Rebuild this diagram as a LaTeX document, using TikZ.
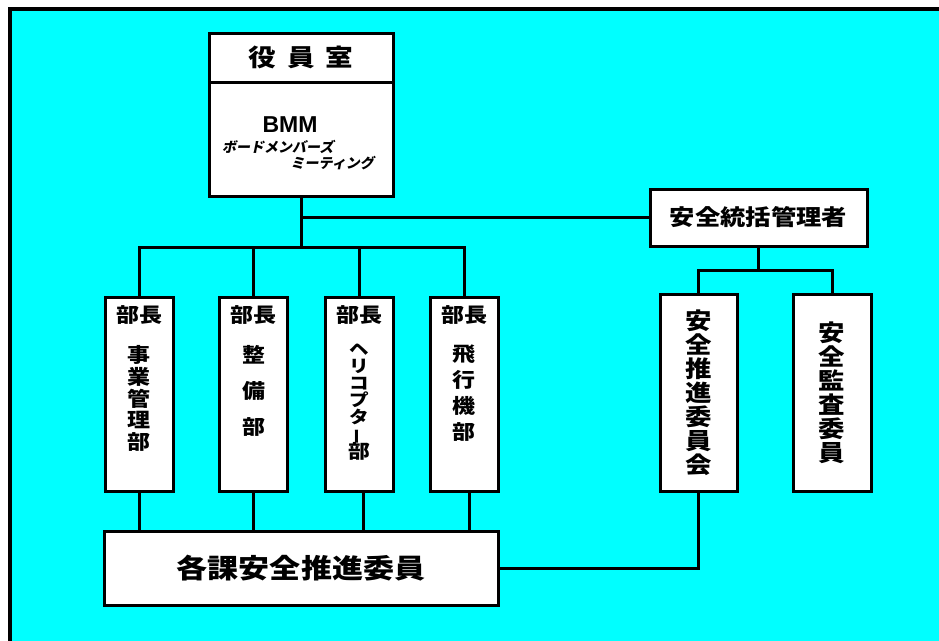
\documentclass[tikz,border=0pt]{standalone}
\usepackage{fontspec}
\newfontfamily\jpfont{Noto Sans CJK JP}[FakeStretch=1.15]
\newfontfamily\jpslant{Noto Sans CJK JP}[FakeSlant=0.2]
\newfontfamily\latinfont{Liberation Sans}
\usetikzlibrary{positioning}
\definecolor{bgcyan}{RGB}{0,255,255}
\lineskiplimit=-100pt

\begin{document}
\begin{tikzpicture}[x=1pt,y=-1pt]
    \tikzstyle{every node} = [inner sep=0pt]
    \tikzstyle{box} = [draw, rectangle, fill=white, line width=3pt]
    \tikzstyle{link} = [line width=3pt]
    \tikzstyle{dept} = [box, minimum width=68pt, minimum height=194pt]
    \tikzstyle{committee} = [box, minimum width=77pt, minimum height=197pt, align=center, font=\jpfont\bfseries\fontsize{23}{24}\selectfont]
    \tikzstyle{chief} = [font=\jpfont\bfseries\fontsize{20}{20}\selectfont]
    \useasboundingbox (0,0) rectangle (939,640);
    \draw[line width=4pt, fill=bgcyan] (10,9) rectangle (960,660);

    % place nodes
    \node[box, minimum width=184pt, minimum height=49pt, font=\jpfont\bfseries\fontsize{24}{24}\selectfont]
      (officerRoom) at (301,57.5) {役\hspace{11pt}員\hspace{11pt}室};
    \node[box, minimum width=184pt, minimum height=114pt] (bmmBox) at (301,139) {};
    \node[font=\latinfont\bfseries\fontsize{23}{23}\selectfont] (bmmLabel) at (290,125) {BMM};
    \node[anchor=west, font=\jpslant\bfseries\fontsize{14}{14}\selectfont] (bmmKanaTop) at (222,147) {ボードメンバーズ};
    \node[anchor=east, font=\jpslant\bfseries\fontsize{14}{14}\selectfont] (bmmKanaBottom) at (374,163) {ミーティング};

    \node[box, minimum width=217pt, minimum height=57pt, font=\jpfont\bfseries\fontsize{22}{22}\selectfont]
      (safetyManager) at (758.5,217.5) {安全統括管理者};
    \node[committee] (promotionCommittee) at (698.5,392.5) {安\\全\\推\\進\\委\\員\\会};
    \node[committee, minimum width=78pt] (auditCommittee) at (832,392.5) {安\\全\\監\\査\\委\\員};

    \node[dept] (deptBusiness) at (139,394) {};
    \node[dept] (deptMaintenance) at (253.5,394) {};
    \node[dept] (deptHelicopter) at (359,394) {};
    \node[dept] (deptFlight) at (464,394) {};
    \node[chief, below=10pt of deptBusiness.north] {部長};
    \node[chief, below=10pt of deptMaintenance.north] {部長};
    \node[chief, below=10pt of deptHelicopter.north] {部長};
    \node[chief, below=10pt of deptFlight.north] {部長};
    \node[align=center, font=\jpfont\bfseries\fontsize{20}{21.7}\selectfont, below=50pt of deptBusiness.north]
      (nameBusiness) {事\\業\\管\\理\\部};
    \node[align=center, font=\jpfont\bfseries\fontsize{20}{36}\selectfont, below=50pt of deptMaintenance.north]
      (nameMaintenance) {整\\備\\部};
    \node[align=center, font=\jpfont\bfseries\fontsize{17}{17}\selectfont, below=48pt of deptHelicopter.north]
      (nameHelicopter) {ヘ\\リ\\コ\\プ\\タ\\\rotatebox[origin=c]{90}{\scalebox{0.8}[1]{ー}}\\[1pt]{\fontsize{19}{19}\selectfont 部}};
    \node[align=center, font=\jpfont\bfseries\fontsize{20}{26}\selectfont, below=49pt of deptFlight.north]
      (nameFlight) {飛\\行\\機\\部};

    \node[box, minimum width=394pt, minimum height=74pt, font=\jpfont\bfseries\fontsize{27}{27}\selectfont]
      (sectionCommittee) at (301,568) {各課安全推進委員};

    % Connections
    \coordinate (bus) at (301,247);
    \coordinate (safetyBranch) at (758.5,270);
    \draw[link] (bmmBox.south) -- (bus);
    \draw[link] (bmmBox.south |- safetyManager.west) -- (safetyManager.west);
    \draw[link] (deptBusiness.north) |- (bus) -| (deptFlight.north);
    \draw[link] (deptMaintenance.north) -- (deptMaintenance.north |- bus);
    \draw[link] (deptHelicopter.north) -- (deptHelicopter.north |- bus);
    \draw[link] (safetyManager.south) -- (safetyBranch);
    \draw[link] (promotionCommittee.north) |- (safetyBranch) -| (auditCommittee.north);
    \draw[link] (deptBusiness.south) -- (deptBusiness.south |- sectionCommittee.north);
    \draw[link] (deptMaintenance.south) -- (deptMaintenance.south |- sectionCommittee.north);
    \draw[link] ([xshift=4pt]deptHelicopter.south) -- ([xshift=4pt]deptHelicopter.south |- sectionCommittee.north);
    \draw[link] ([xshift=5pt]deptFlight.south) -- ([xshift=5pt]deptFlight.south |- sectionCommittee.north);
    \draw[link] (sectionCommittee.east) -| (promotionCommittee.south);

\end{tikzpicture}
\end{document}
